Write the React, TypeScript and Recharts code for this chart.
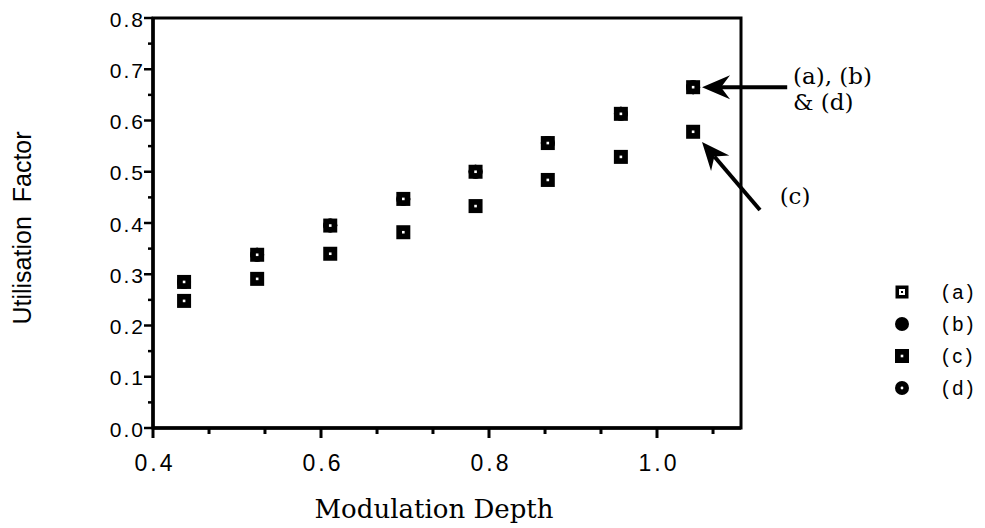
import React from 'react'
import {
  ScatterChart, Scatter, XAxis, YAxis, ReferenceArea, ReferenceLine, ReferenceDot, Legend,
} from 'recharts'

// modulation depth values for each measured point
const modDepth = [0.437, 0.524, 0.611, 0.698, 0.784, 0.870, 0.957, 1.043]
// (a), (b) and (d) lie on top of each other
const utilA = [0.285, 0.338, 0.395, 0.447, 0.500, 0.556, 0.613, 0.665]
const utilB = [0.285, 0.338, 0.395, 0.447, 0.500, 0.556, 0.613, 0.665]
const utilD = [0.285, 0.338, 0.395, 0.447, 0.500, 0.556, 0.613, 0.665]
const utilC = [0.248, 0.291, 0.340, 0.382, 0.433, 0.484, 0.529, 0.578]

const xTicks = [0.4, 0.4667, 0.5333, 0.6, 0.6667, 0.7333, 0.8, 0.8667, 0.9333, 1.0, 1.0667]
const xTickLabels = ['0.4', '', '', '0.6', '', '', '0.8', '', '', '1.0', '']
const yTicks = [0, 0.05, 0.1, 0.15, 0.2, 0.25, 0.3, 0.35, 0.4, 0.45, 0.5, 0.55, 0.6, 0.65, 0.7, 0.75, 0.8]
const yTickLabels = ['0.0', '', '0.1', '', '0.2', '', '0.3', '', '0.4', '', '0.5', '', '0.6', '', '0.7', '', '0.8']

const seriesNames = ['(a)', '(b)', '(c)', '(d)']

// annotation arrows, in data units
const arrowABD = [{ x: 1.155, y: 0.665 }, { x: 1.0536, y: 0.665 }]
const arrowC = [{ x: 1.1226, y: 0.4254 }, { x: 1.0536, y: 0.558 }]

const SANS = '"Liberation Sans", Arial, Helvetica, sans-serif'
const SERIF = '"DejaVu Serif", serif'

const toPts = (ys: number[]) => modDepth.map((x, i) => ({ x, y: ys[i] }))

function Marker({ kind, cx, cy }: { kind: string, cx: number, cy: number }) {
  if (kind === '(a)') {
    return (
      <g>
        <rect x={cx - 6.5} y={cy - 6.5} width={13} height={13} fill="#000" />
        <rect x={cx - 3} y={cy - 3} width={6} height={6} fill="#fff" />
        <rect x={cx - 1} y={cy - 1} width={2} height={2} fill="#000" />
      </g>
    )
  }
  if (kind === '(b)') return <circle cx={cx} cy={cy} r={7} fill="#000" />
  if (kind === '(d)') {
    return (
      <g>
        <circle cx={cx} cy={cy} r={7} fill="#000" />
        <circle cx={cx} cy={cy} r={1.4} fill="#fff" />
      </g>
    )
  }
  // (c), and the visible square on top of (a)/(b)/(d) inside the plot
  return (
    <g>
      <rect x={cx - 7} y={cy - 7} width={14} height={14} fill="#000" />
      <rect x={cx - 1.3} y={cy - 1.3} width={2.6} height={2.6} fill="#fff" />
    </g>
  )
}

function XTick(props: any) {
  const { x, y, index } = props
  const label = xTickLabels[index]
  return (
    <g>
      <line x1={x} y1={y} x2={x} y2={y + (label ? 10 : 6)} stroke="#000" strokeWidth={3} />
      {label && (
        <text x={x + 2} y={y + 43} textAnchor="middle" fontFamily={SANS} fontSize={23} letterSpacing={3} fill="#000">
          {label}
        </text>
      )}
    </g>
  )
}

function YTick(props: any) {
  const { x, y, index } = props
  const label = yTickLabels[index]
  return (
    <g>
      <line x1={x} y1={y} x2={x - (label ? 9 : 5)} y2={y} stroke="#000" strokeWidth={2.5} />
      {label && (
        <text x={x - 8} y={y + 1} textAnchor="end" dominantBaseline="central" fontFamily={SANS} fontSize={21} letterSpacing={2} fill="#000">
          {label}
        </text>
      )}
    </g>
  )
}

function arrowShape(props: any) {
  const { x1, y1, x2, y2 } = props
  const ang = Math.atan2(y2 - y1, x2 - x1)
  const len = 28, half = 12, notch = 19
  const bx = x2 - len * Math.cos(ang), by = y2 - len * Math.sin(ang)
  const nx = x2 - notch * Math.cos(ang), ny = y2 - notch * Math.sin(ang)
  const px = -Math.sin(ang), py = Math.cos(ang)
  const pts = [
    [x2, y2],
    [bx + px * half, by + py * half],
    [nx, ny],
    [bx - px * half, by - py * half],
  ].map(p => p.join(',')).join(' ')
  return (
    <g>
      <line x1={x1} y1={y1} x2={nx} y2={ny} stroke="#000" strokeWidth={4} />
      <polygon points={pts} fill="#000" />
    </g>
  )
}

function noteText(lines: string[]) {
  return (p: any) => (
    <text x={p.cx} y={p.cy} fontFamily={SERIF} fontSize={23} fill="#000">
      {lines.map((l, i) => (
        <tspan key={i} x={p.cx} dy={i === 0 ? 0 : 26}>{l}</tspan>
      ))}
    </text>
  )
}

function LegendBox() {
  return (
    <div style={{ fontFamily: SANS, fontSize: 20, color: '#000' }}>
      {seriesNames.map(n => (
        <div key={n} style={{ display: 'flex', alignItems: 'center', height: 32 }}>
          <svg width={36} height={20}><Marker kind={n} cx={19} cy={10} /></svg>
          <span style={{ marginLeft: 23, letterSpacing: 3.5 }}>{n}</span>
        </div>
      ))}
    </div>
  )
}

export default function App() {
  return (
    <div style={{ position: 'absolute', left: 0, top: 0, background: '#fff' }}>
      <ScatterChart width={985} height={528} margin={{ top: 18, right: 244, bottom: 0, left: 0 }}>
        <XAxis
          dataKey="x"
          type="number"
          domain={[0.4, 1.1]}
          ticks={xTicks}
          interval={0}
          height={100}
          tickSize={0}
          tickMargin={0}
          tickLine={false}
          axisLine={{ stroke: '#000', strokeWidth: 3.5 }}
          tick={<XTick />}
          label={{
            content: (p: any) => (
              <text
                x={p.viewBox.x + p.viewBox.width / 2 - 13}
                y={p.viewBox.y + 90}
                textAnchor="middle"
                fontFamily={SERIF}
                fontSize={26}
                fill="#000"
              >
                Modulation Depth
              </text>
            ),
          }}
        />
        <YAxis
          dataKey="y"
          type="number"
          domain={[0, 0.8]}
          ticks={yTicks}
          interval={0}
          width={153}
          tickSize={0}
          tickMargin={0}
          tickLine={false}
          axisLine={{ stroke: '#000', strokeWidth: 3.5 }}
          tick={<YTick />}
          label={{
            content: (p: any) => {
              const cx = 22
              const cy = p.viewBox.y + p.viewBox.height / 2 + 5
              return (
                <text
                  x={cx}
                  y={cy}
                  transform={`rotate(-90 ${cx} ${cy})`}
                  textAnchor="middle"
                  dominantBaseline="central"
                  fontFamily={SANS}
                  fontSize={25}
                  fill="#000"
                  style={{ whiteSpace: 'pre' }}
                >
                  {'Utilisation  Factor'}
                </text>
              )
            },
          }}
        />
        <ReferenceArea x1={0.4} x2={1.1} y1={0} y2={0.8} fill="none" stroke="#000" strokeWidth={3} ifOverflow="visible" />
        <Scatter name="(b)" data={toPts(utilB)} isAnimationActive={false} shape={(p: any) => <Marker kind="(b)" cx={p.cx} cy={p.cy} />} />
        <Scatter name="(d)" data={toPts(utilD)} isAnimationActive={false} shape={(p: any) => <Marker kind="(d)" cx={p.cx} cy={p.cy} />} />
        <Scatter name="(a)" data={toPts(utilA)} isAnimationActive={false} shape={(p: any) => <Marker kind="plot" cx={p.cx} cy={p.cy} />} />
        <Scatter name="(c)" data={toPts(utilC)} isAnimationActive={false} shape={(p: any) => <Marker kind="(c)" cx={p.cx} cy={p.cy} />} />
        <ReferenceLine segment={arrowABD} ifOverflow="visible" shape={arrowShape} />
        <ReferenceLine segment={arrowC} ifOverflow="visible" shape={arrowShape} />
        <ReferenceDot x={1.162} y={0.672} r={1} ifOverflow="visible" shape={noteText(['(a), (b)', '& (d)'])} />
        <ReferenceDot x={1.146} y={0.437} r={1} ifOverflow="visible" shape={noteText(['(c)'])} />
        <Legend
          layout="horizontal"
          verticalAlign="middle"
          align="center"
          content={() => <LegendBox />}
          wrapperStyle={{ left: 883, top: 276, width: 100, position: 'absolute' }}
        />
      </ScatterChart>
    </div>
  )
}
